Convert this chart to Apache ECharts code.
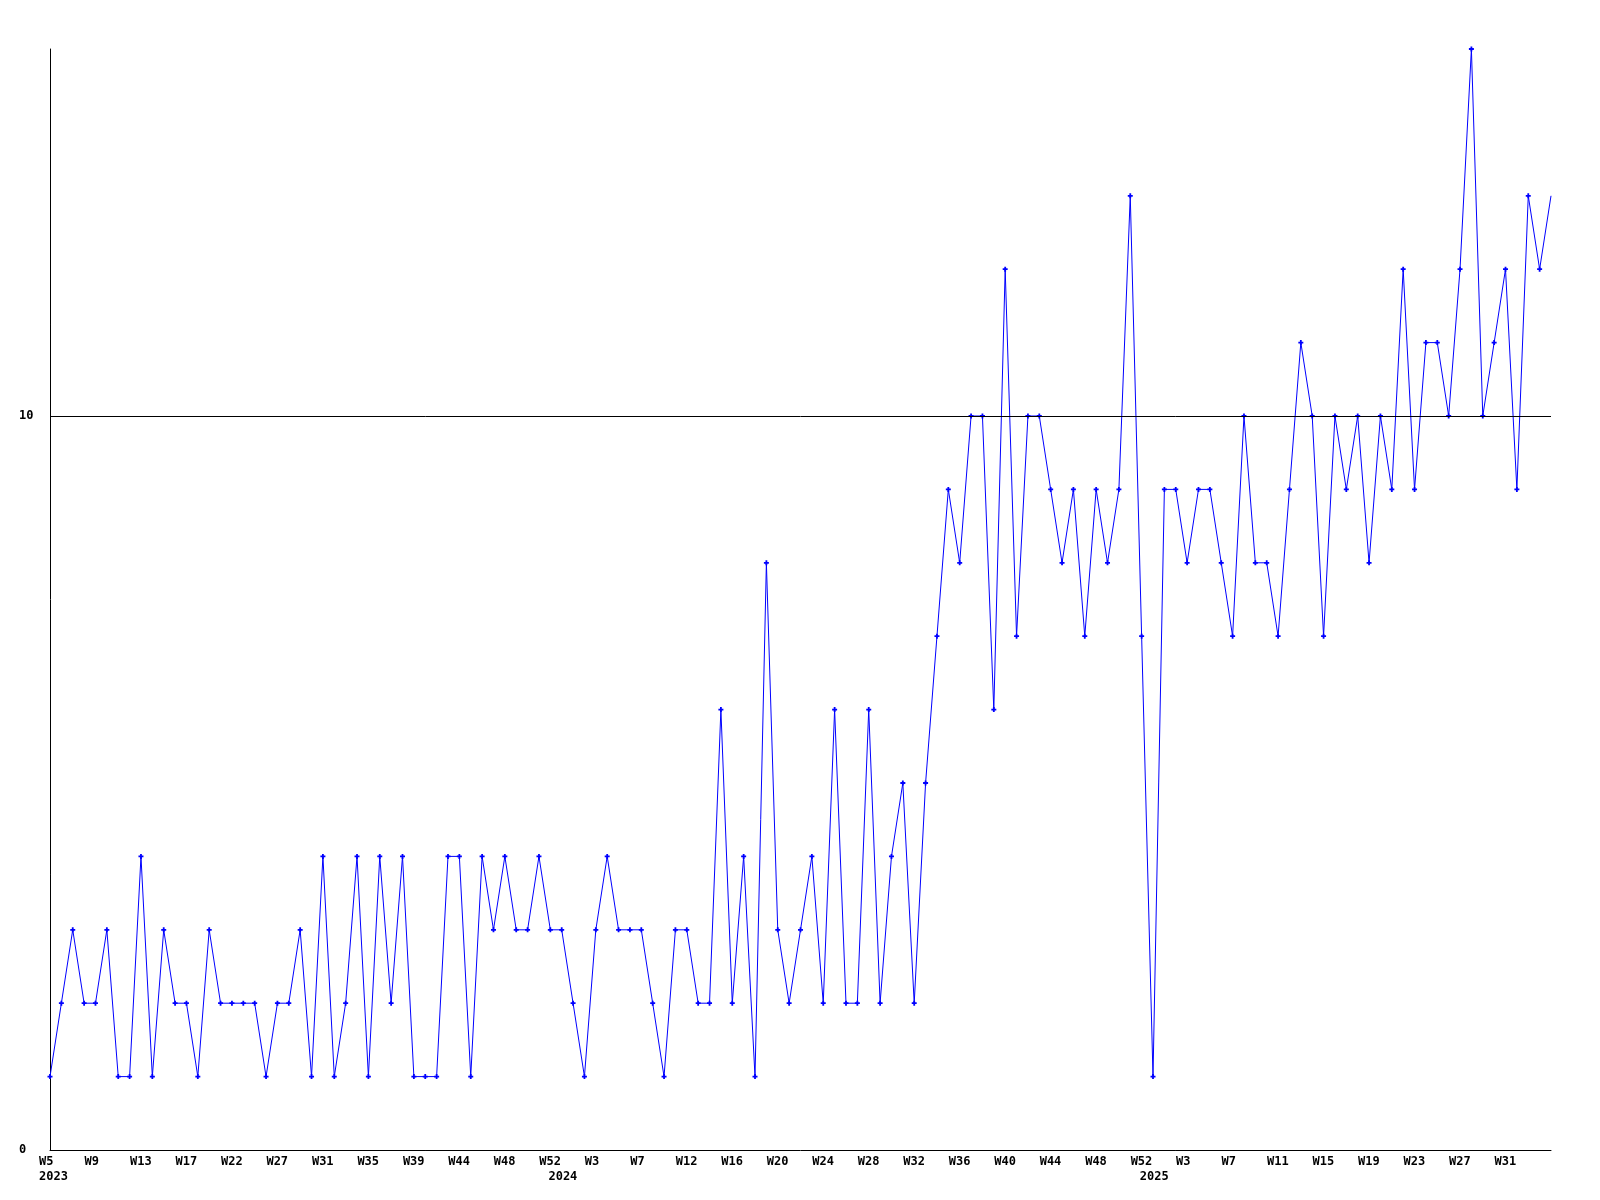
<!DOCTYPE html>
<html>
<head>
<meta charset="utf-8">
<script src="https://cdn.jsdelivr.net/npm/echarts@6/dist/echarts.min.js"></script>
<style>
html,body{margin:0;padding:0;background:#fff;}
#chart{width:1600px;height:1200px;}
</style>
</head>
<body>
<div id="chart"></div>
<script>
// Weekly values, one per point (133 points)
const values = [
  1,2,3,2,2,3,1,1,4,1,3,2,2,1,3,2,2,2,2,1,2,2,3,1,4,1,2,4,1,4,2,4,1,
  1,1,4,4,1,4,3,4,3,3,4,3,3,2,1,3,4,3,3,3,2,1,3,3,2,2,6,2,4,1,8,3,2,
  3,4,2,6,2,2,6,2,4,5,2,5,7,9,8,10,10,6,12,7,10,10,9,8,9,7,9,8,9,13,
  7,1,9,9,8,9,9,8,7,10,8,8,7,9,11,10,7,10,9,10,8,10,9,12,9,11,11,10,
  12,15,10,11,12,9,13,12,13
];
// Tick labels shown on every 4th point
const tickLabels = ['W5','W9','W13','W17','W22','W27','W31','W35','W39','W44','W48','W52',
  'W3','W7','W12','W16','W20','W24','W28','W32','W36','W40','W44','W48','W52',
  'W3','W7','W11','W15','W19','W23','W27','W31'];
const tickStep = 4;
// Year labels and the point index they sit under
const yearLabels = ['2023','2024','2025'];
const yearIndex = [0,44,96];
const refLineValue = 10;

const categories = values.map((v, i) => String(i));
const seriesData = values.map((v, i) => i === values.length - 1 ? {value: v, symbol: 'none'} : v);

const font = '"DejaVu Sans Mono", monospace';
const chart = echarts.init(document.getElementById('chart'), null, {renderer: 'canvas'});
chart.setOption({
  animation: false,
  backgroundColor: '#ffffff',
  grid: {left: 50, right: 49, top: 49, bottom: 50, containLabel: false},
  xAxis: [{
    type: 'category',
    data: categories,
    boundaryGap: false,
    axisLine: {show: true, lineStyle: {color: '#000', width: 1}},
    axisTick: {show: false},
    splitLine: {show: false},
    axisLabel: {
      interval: (i) => i % tickStep === 0,
      margin: 6,
      color: '#000',
      fontFamily: font,
      fontWeight: 'bold',
      fontSize: 12,
      align: 'center',
      formatter: (val, i) => {
        const t = tickLabels[i / tickStep];
        return t ? '{a|' + t + '}' : '';
      },
      rich: {a: {width: 22, align: 'left', fontFamily: font, fontWeight: 'bold', fontSize: 12, color: '#000'}}
    }
  }, {
    type: 'category',
    data: categories,
    boundaryGap: false,
    position: 'bottom',
    offset: 15,
    axisLine: {show: false},
    axisTick: {show: false},
    splitLine: {show: false},
    axisLabel: {
      interval: 0,
      margin: 6,
      color: '#000',
      fontFamily: font,
      fontWeight: 'bold',
      fontSize: 12,
      align: 'center',
      formatter: (val, i) => {
        const k = yearIndex.indexOf(i);
        if (k < 0) return '';
        return k === 0 ? '{f|' + yearLabels[k] + '}' : '{r|' + yearLabels[k] + '}';
      },
      rich: {
        f: {width: 22, align: 'left', fontFamily: font, fontWeight: 'bold', fontSize: 12, color: '#000'},
        r: {width: 54, align: 'right', fontFamily: font, fontWeight: 'bold', fontSize: 12, color: '#000'}
      }
    }
  }],
  yAxis: {
    type: 'value',
    min: 0,
    max: 15,
    interval: 10,
    axisLine: {show: true, lineStyle: {color: '#000', width: 1}},
    axisTick: {show: false},
    splitLine: {show: false},
    axisLabel: {
      showMaxLabel: false,
      margin: 31,
      align: 'left',
      color: '#000',
      fontFamily: font,
      fontWeight: 'bold',
      fontSize: 12
    }
  },
  series: [{
    type: 'line',
    xAxisIndex: 0,
    data: seriesData,
    symbol: 'path://M1.6,0H3.4V5H1.6Z M0,1.6H5V3.4H0Z',
    symbolSize: 5,
    showAllSymbol: true,
    lineStyle: {color: '#0000ff', width: 1},
    itemStyle: {color: '#0000ff'},
    emphasis: {disabled: true},
    silent: true,
    markLine: {
      silent: true,
      symbol: ['none', 'none'],
      label: {show: false},
      lineStyle: {color: '#000', type: 'solid', width: 1},
      emphasis: {disabled: true},
      data: [{yAxis: refLineValue}]
    },
    z: 3
  }]
});
</script>
</body>
</html>
